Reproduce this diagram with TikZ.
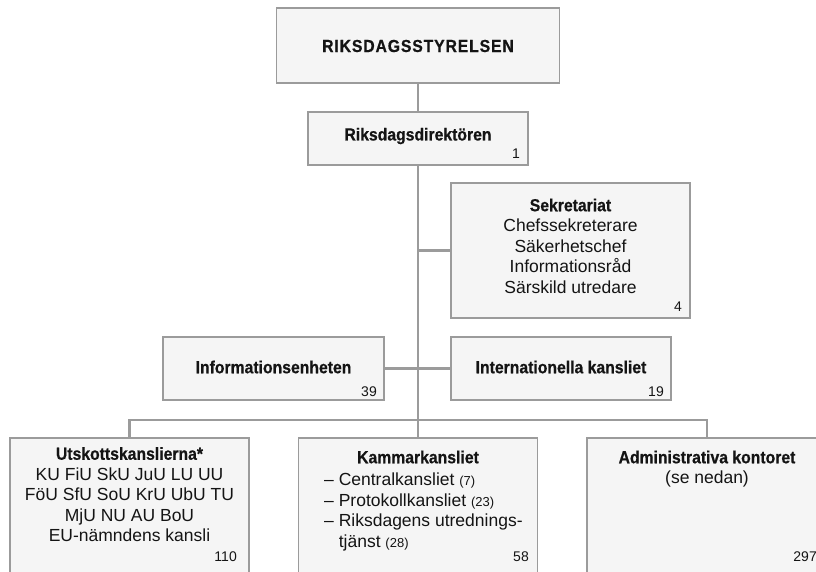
\documentclass[tikz,border=0pt]{standalone}
\usepackage{fontspec}
\setmainfont{Liberation Sans}[BoldFeatures={FakeStretch=0.9,FakeBold=0.6}]
\definecolor{linjegra}{RGB}{155,155,155}
\definecolor{rutfarg}{RGB}{245,245,245}
\definecolor{textsvart}{RGB}{20,20,20}
\newcommand{\rubr}[1]{{\fontsize{17.5}{20.5}\selectfont\bfseries #1}}
\newcommand{\liten}[1]{{\fontsize{13}{14}\selectfont #1}}
\tikzset{
  ruta/.style={draw=linjegra, fill=rutfarg, line width=1.8pt, inner sep=0pt},
  linje/.style={draw=linjegra, line width=2.6pt},
  rubrik/.style={font=\fontsize{17.5}{19}\selectfont\bfseries, text=textsvart},
  brod/.style={font=\fontsize{17.5}{20.5}\selectfont, text=textsvart, align=center},
  tal/.style={font=\fontsize{14}{15}\selectfont, text=textsvart, anchor=base east, inner sep=0pt}
}
\begin{document}
\begin{tikzpicture}[x=1pt,y=-1pt]
  \useasboundingbox (0,0) rectangle (816,571);
  \clip (0,0) rectangle (816,571);
  % rutor
  \node[ruta, minimum width=283pt, minimum height=75pt] (styrelsen) at (418,45.5) {};
  \node[ruta, minimum width=220pt, minimum height=53pt] (direktor) at (418,138.5) {};
  \node[ruta, minimum width=239pt, minimum height=135pt] (sekretariat) at (570.5,250.5) {};
  \node[ruta, minimum width=221pt, minimum height=63pt] (infoenheten) at (273.5,368.5) {};
  \node[ruta, minimum width=220pt, minimum height=63pt] (internat) at (561,368.5) {};
  \node[ruta, minimum width=239pt, minimum height=136pt] (utskott) at (129.5,506) {};
  \node[ruta, minimum width=239pt, minimum height=136pt] (kammar) at (418,506) {};
  \node[ruta, minimum width=240pt, minimum height=136pt] (admin) at (707,506) {};
  % linjer
  \coordinate (buss) at (418,420);
  \draw[linje] (styrelsen.south) -- (direktor.north);
  \draw[linje] (direktor.south) -- (kammar.north);
  \draw[linje] (sekretariat.west) -- (sekretariat.west -| direktor.south);
  \draw[linje] (infoenheten.east) -- (internat.west);
  \draw[linje] (utskott.north) |- (buss) -| (admin.north);
  % texter
  \node[rubrik] (styrtext) at (418,46) {\addfontfeatures{LetterSpace=5}RIKSDAGSSTYRELSEN};
  \node[rubrik] (direktortext) at (418,136) {Riksdagsdirektören};
  \node[tal] (direktortal) at (520,158) {1};
  \node[brod] (sekrtext) at (570.5,246) {\rubr{Sekretariat}\\Chefssekreterare\\Säkerhetschef\\Informationsråd\\Särskild utredare};
  \node[tal] (sekrtal) at (682,311) {4};
  \node[rubrik] (infotext) at (273.5,367) {Informationsenheten};
  \node[tal] (infotal) at (377,396) {39};
  \node[rubrik] (internattext) at (561,367) {Internationella kansliet};
  \node[tal] (internattal) at (664,396) {19};
  \node[brod] (utskotttext) at (129.5,494.5) {\rubr{Utskottskanslierna*}\\KU FiU SkU JuU LU UU\\FöU SfU SoU KrU UbU TU\\MjU NU AU BoU\\EU-nämndens kansli};
  \node[tal] (utskotttal) at (237,561) {110};
  \node[rubrik] (kammartext) at (418,457) {Kammarkansliet};
  \node[brod, align=left, anchor=north west, inner sep=0pt] (kammarlista) at (324,473) {– Centralkansliet \liten{(7)}\\– Protokollkansliet \liten{(23)}\\– Riksdagens utrednings-\\\phantom{– }tjänst \liten{(28)}};
  \node[tal] (kammartal) at (529,561) {58};
  \node[brod] (admintext) at (707,469) {\rubr{Administrativa kontoret}\\(se nedan)};
  \node[tal] (admintal) at (817,561) {297};
\end{tikzpicture}
\end{document}
